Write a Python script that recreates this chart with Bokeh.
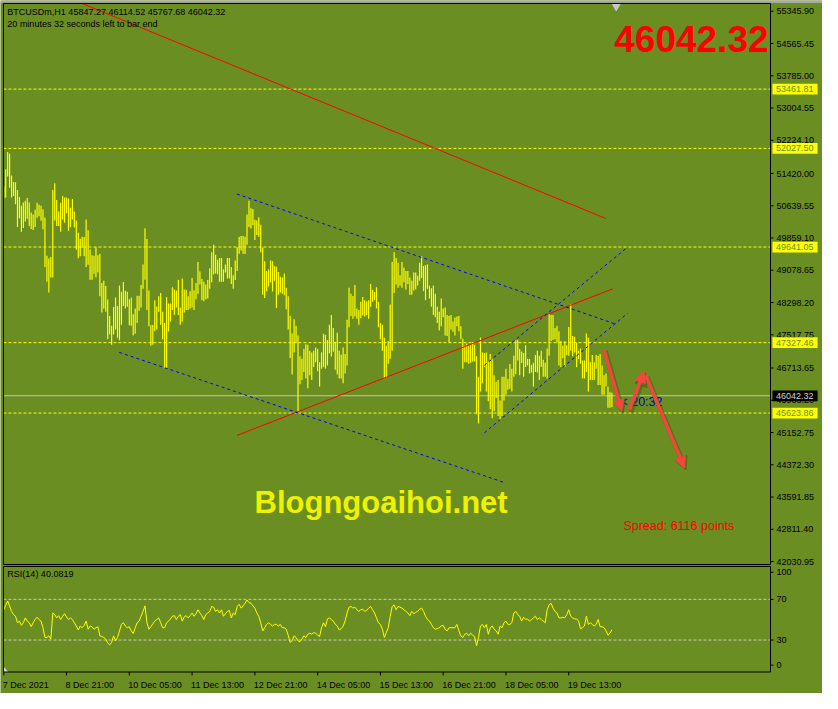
from bokeh.plotting import figure
from bokeh.models import Range1d, ColumnDataSource, Arrow, NormalHead
from bokeh.core.properties import value
from bokeh.embed import file_html
from bokeh.resources import INLINE

# ---------------- data ----------------
symbol = "BTCUSDm,H1"
last_open, last_high, last_low, last_close = 45847.27, 46114.52, 45767.68, 46042.32
rsi_last = 40.0819
spread_points = 6116
time_left = "20:32"

# hourly bars, bar 0 = 7 Dec 2021 13:00
bar_high = [
    51113, 51522, 51940, 51901, 51373, 51215, 51207, 51018, 50852, 50640,
    50718, 50758, 50829, 50718, 50474, 50427, 50545, 50710, 50663, 50640,
    50553, 50356, 49433, 49363, 49402, 51018, 51183, 50781, 50498, 50710,
    50876, 50837, 50837, 50813, 50592, 50805, 50498, 50285, 49985, 49843,
    49891, 49883, 50308, 50048, 49583, 49441, 49433, 49638, 49441, 49481,
    48771, 48826, 48700, 48369, 47975, 47739, 48188, 48417, 48212, 48708,
    48558, 48795, 48582, 48558, 48377, 48417, 48015, 48156, 48464, 48464,
    48724, 49221, 50096, 49836, 48590, 47747, 47754, 48354, 48204, 48448,
    48527, 48078, 47802, 48432, 48275, 48275, 48669, 48614, 48590, 48850,
    48180, 48882, 48614, 48606, 48448, 48574, 48890, 48590, 48771, 49276,
    49047, 48866, 48803, 48732, 48842, 49126, 49512, 49694, 49457, 49331,
    49378, 49378, 49102, 49221, 49378, 49378, 49158, 48960, 49315, 49638,
    49883, 49906, 49906, 49891, 50427, 50758, 50577, 50561, 50301, 50285,
    50364, 50182, 49631, 49299, 49063, 49102, 49315, 49299, 49181, 49165,
    49039, 48921, 48905, 49000, 48653, 48448, 47975, 47549, 47896, 47739,
    47502, 46998, 46935, 47171, 47289, 47274, 47132, 47092, 47132, 47210,
    47171, 46856, 47092, 47542, 47518, 47392, 47762, 47999, 47683, 47352,
    47565, 47132, 47037, 47210, 47053, 47881, 48653, 48511, 48456, 48724,
    48156, 48117, 48314, 48432, 48354, 48330, 48354, 48748, 48606, 48551,
    48669, 48314, 47802, 47762, 47447, 47250, 47368, 48251, 49276, 49512,
    49378, 49260, 48960, 49276, 49142, 49063, 49063, 48905, 48827, 49024,
    49024, 48945, 49260, 49418, 49181, 49205, 49221, 48708, 48645, 48708,
    48511, 48196, 48078, 48393, 48156, 48180, 47999, 47975, 47999, 47841,
    47936, 47959, 47975, 47723, 47423, 47250, 47305, 47250, 47289, 47344,
    47274, 46998, 46501, 47447, 47092, 47076, 47092, 46871, 47053, 46935,
    46540, 46383, 46422, 45926, 46501, 46501, 46698, 46446, 46808, 46698,
    47013, 47384, 47400, 47171, 47116, 47076, 47266, 46935, 46935, 46793,
    46840, 47029, 47132, 47013, 47132, 46911, 46840, 47187, 48038, 47999,
    47999, 47683, 47739, 47605, 47368, 47250, 47368, 47266, 47707, 48259,
    47486, 47471, 47329, 47132, 47187, 46895, 46895, 47549, 47447, 46856,
    47029, 46856, 47029, 47013, 47053, 46777, 46540, 46580, 46265, 46130,
    46114.52,
]
bar_low = [
    50813, 50837, 51349, 51073, 50837, 50876, 50679, 50127, 50340, 50009,
    50104, 50261, 50324, 50151, 50080, 50056, 50127, 50348, 50387, 50277,
    50072, 49158, 48803, 48543, 48905, 48905, 50285, 50151, 50151, 50009,
    50308, 50230, 50458, 50033, 50127, 50308, 50111, 49575, 49370, 49418,
    49615, 49418, 49158, 49213, 48850, 48850, 48992, 48905, 49024, 48448,
    48054, 48156, 48078, 47408, 47526, 47274, 47526, 47644, 47447, 47384,
    47762, 48212, 48156, 48196, 47747, 47739, 47502, 47542, 47802, 48101,
    48180, 48629, 48850, 48117, 47723, 47250, 47274, 47612, 47644, 48078,
    47762, 47408, 46714, 46714, 47597, 47841, 48117, 47999, 48180, 47999,
    47762, 47841, 48054, 48117, 48117, 48156, 48180, 48117, 48377, 48511,
    48732, 48354, 48330, 48377, 48393, 48629, 48787, 48984, 49000, 48984,
    48803, 48803, 48803, 49024, 48882, 48882, 48748, 48629, 48842, 49063,
    49481, 49560, 49481, 49473, 49694, 50127, 50088, 50167, 49812, 49930,
    49891, 49512, 48488, 48409, 48574, 48685, 48787, 48566, 48827, 48164,
    48488, 48543, 48511, 48472, 48133, 47644, 46958, 46556, 47092, 47313,
    45634, 46320, 46422, 46619, 46462, 46225, 46540, 46422, 46737, 46856,
    46635, 46265, 46698, 46737, 46698, 46777, 47069, 46990, 47108, 46674,
    46556, 46462, 46462, 46343, 46580, 46777, 47699, 47975, 47904, 47959,
    47904, 47762, 47920, 47983, 47959, 47999, 47904, 48196, 48314, 48354,
    48156, 47699, 47408, 47132, 46477, 46493, 46816, 46935, 47132, 48527,
    48732, 48653, 48708, 48653, 48787, 48614, 48748, 48488, 48488, 48590,
    48622, 48708, 48827, 48890, 48574, 48354, 48629, 48393, 48196, 47999,
    47944, 47802, 47620, 47723, 47944, 47502, 47486, 47329, 47644, 47589,
    47502, 47723, 47605, 47408, 46698, 46856, 46856, 46816, 46840, 46871,
    46871, 45594, 45374, 46146, 46343, 46737, 46146, 45910, 45713, 45500,
    45673, 45989, 45555, 45453, 45555, 45926, 46067, 46186, 46209, 46146,
    46501, 46564, 46895, 46540, 46832, 46501, 46737, 46777, 46580, 46603,
    46265, 46619, 46603, 46422, 46737, 46501, 46501, 46462, 47013, 47368,
    47392, 47408, 47329, 46777, 46737, 46950, 46737, 47029, 47013, 47132,
    46998, 47092, 46737, 46935, 46816, 46462, 46462, 46619, 46146, 46422,
    46422, 46422, 46698, 46304, 46304, 46067, 46067, 46265, 45752, 45752,
    45767.68,
]
bar_index = list(range(len(bar_high)))

rsi_bar = [0, 2] + list(range(4, 311))
rsi_val = [
    59.8, 68.4,
    58.2, 55.0, 53.4, 47.0, 48.6, 44.4, 47.0, 51.8, 48.6, 47.0,
    43.1, 47.0, 50.2, 52.4, 50.2, 48.6, 42.1, 32.5, 32.5, 34.1,
    30.9, 56.6, 55.0, 51.8, 54.0, 50.2, 53.4, 55.9, 52.7, 50.2,
    51.8, 50.2, 47.0, 43.8, 39.9, 43.8, 42.1, 44.4, 48.6, 40.6,
    43.8, 43.1, 40.6, 42.1, 43.1, 34.1, 33.5, 32.5, 30.9, 27.1,
    25.2, 27.7, 34.1, 29.3, 32.5, 39.0, 45.4, 47.0, 43.8, 42.1,
    43.1, 39.0, 36.4, 42.1, 47.0, 48.6, 53.4, 58.2, 63.6, 47.0,
    40.6, 43.1, 46.0, 48.6, 50.2, 51.8, 47.0, 42.1, 42.1, 47.0,
    48.6, 50.8, 53.4, 54.0, 50.2, 53.4, 55.0, 48.6, 52.7, 54.0,
    51.8, 54.0, 56.6, 53.4, 55.9, 59.8, 56.6, 54.0, 50.2, 55.0,
    56.6, 58.2, 63.0, 62.3, 58.2, 59.8, 56.6, 59.8, 53.4, 55.9,
    58.2, 59.1, 51.8, 56.6, 55.0, 63.0, 65.2, 61.4, 63.6, 66.2,
    69.4, 66.8, 66.2, 63.6, 61.4, 56.6, 53.4, 47.0, 39.0, 42.1,
    45.4, 47.0, 45.4, 43.8, 45.4, 45.4, 43.8, 45.4, 42.1, 42.1,
    40.6, 34.8, 27.7, 29.3, 34.1, 32.5, 29.3, 28.4, 30.9, 34.1,
    32.5, 35.7, 36.7, 35.7, 37.3, 36.7, 34.8, 33.5, 42.1, 47.0,
    43.1, 50.8, 51.8, 50.2, 48.6, 45.4, 43.8, 39.9, 41.2, 43.8,
    48.6, 56.6, 62.3, 63.0, 61.4, 62.3, 59.8, 58.2, 59.8, 60.4,
    58.2, 59.1, 61.4, 63.0, 59.8, 56.6, 51.8, 47.0, 45.4, 40.6,
    32.5, 37.3, 42.1, 53.4, 63.0,
    64.6, 59.8, 63.0, 62.3, 61.4, 59.8, 58.2, 56.6, 54.0, 58.2,
    55.9, 57.2, 58.2, 60.4, 61.4, 58.2, 53.4, 50.2, 48.6, 45.4,
    42.1, 40.6, 41.2, 42.1, 43.8, 44.4, 40.6, 39.0, 42.1, 42.1,
    42.1, 42.1, 45.4, 39.0, 34.1, 32.5, 35.7, 36.7, 34.1, 36.7,
    34.8, 33.5, 24.5, 32.5, 43.8, 45.4, 42.1, 45.4, 35.7, 42.1,
    43.8, 40.6, 39.0, 35.7, 43.8, 42.1, 47.0, 48.6, 45.4, 45.4,
    47.0, 56.6, 58.2, 55.0, 53.4, 48.6, 52.4, 50.2, 50.8, 48.6,
    50.2, 51.8, 53.4, 50.2, 51.8, 50.2, 48.6, 47.0, 59.8, 64.6,
    66.2, 61.4, 58.2, 56.6, 51.8, 51.8, 52.4, 51.8, 55.0, 59.8,
    53.4, 51.8, 50.8, 50.8, 48.6, 41.2, 42.1, 43.8, 53.4, 45.4,
    47.0, 45.4, 43.8, 45.4, 50.2, 43.1, 43.1, 42.1, 39.0, 34.8,
    36.7, 40.08,
]

xtick_bars = [0, 32, 64, 96, 128, 160, 192, 224, 256, 288]
xtick_labels = ["7 Dec 2021", "8 Dec 21:00", "10 Dec 05:00", "11 Dec 13:00",
                "12 Dec 21:00", "14 Dec 05:00", "15 Dec 13:00", "16 Dec 21:00",
                "18 Dec 05:00", "19 Dec 13:00"]
price_ticks = [55345.90, 54565.45, 53785.00, 53004.55, 52224.10, 51420.00,
               50639.55, 49859.10, 49078.65, 48298.20, 47517.75, 46713.65,
               45933.20, 45152.75, 44372.30, 43591.85, 42811.40, 42030.95]
levels = [53461.81, 52027.50, 49641.05, 47327.46, 45623.86]
rsi_levels = [70, 30]
rsi_tick_labels = ["100", "70", "30", "0"]

# trend lines (bar index, price)
red_x0 = [39.9, 118.9]
red_y0 = [55535, 45082]
red_x1 = [306.9, 310.4]
red_y1 = [50332, 48629]
blue_x0 = [118.9, 58.9, 245.0, 245.0]
blue_y0 = [50923, 47092, 45146, 46778]
blue_x1 = [311.9, 254.9, 318.0, 318.0]
blue_y1 = [47778, 43947, 48038, 49639]

# forecast arrows (bar index, price)
arrow_x0 = [305.9, 318.9, 327.2]
arrow_y0 = [47170, 45697, 46541]
arrow_x1 = [315.0, 326.4, 347.0]
arrow_y1 = [45673, 46636, 44294]

shift_bar = 312.2

# ---------------- layout helpers (reference-pixel -> data) ----------------
W, H = 822, 693
OLIVE = "#6B8E23"
FONT = "Liberation Sans"


def X(px):
    return (px - 3.3) / 2.0


def Y(py):
    return 53785.0 - 23.65 * (py - 77.0)


def R(py):
    return (685.5 - py) / 1.04


PPP = 23.65 * 709.0 / H      # price per screen pixel
BPP = 2.0 * 838.0 / W        # bars per screen pixel (inverse)
BPP = 838.0 / W / 2.0

p = figure(width=W, height=H, x_range=Range1d(X(0), X(838)), y_range=Range1d(Y(709), Y(0)),
           output_backend="svg", toolbar_location=None, x_axis_location=None,
           y_axis_location=None, min_border=0, outline_line_color=None,
           background_fill_color=OLIVE, border_fill_color=OLIVE)
p.extra_y_ranges = {"rsi": Range1d(R(709), R(0))}
p.grid.visible = False

# top grey strip
p.quad(left=[X(0)], right=[X(838)], top=[Y(0)], bottom=[Y(2.5)], fill_color="#A8A8A8",
       line_color=None)

# horizontal levels
p.segment(x0=[X(3)] * len(levels), x1=[X(785)] * len(levels), y0=levels, y1=levels,
          line_color="#FFFF00", line_dash="3 2", line_width=1)
p.segment(x0=[X(3)], x1=[X(785)], y0=[last_close], y1=[last_close],
          line_color="#C0C0C0", line_width=1)

# bars
src = ColumnDataSource(dict(k=bar_index, hi=bar_high, lo=bar_low))
p.segment(x0="k", y0="lo", x1="k", y1="hi", source=src, line_color="#FFFF00",
          line_width=1.2)

# trend lines
p.segment(x0=red_x0, y0=red_y0, x1=red_x1, y1=red_y1, line_color="#FF0000", line_width=1)
p.segment(x0=blue_x0, y0=blue_y0, x1=blue_x1, y1=blue_y1, line_color="#0000FF",
          line_width=1, line_dash="3 3")

# shift marker
p.scatter(x=[shift_bar], y=[Y(5.8)], marker="inverted_triangle", size=8,
          fill_color="#C8C8C8", line_color="#C8C8C8")

# RSI panel
p.segment(x0=[X(3)] * 2, x1=[X(785)] * 2, y0=rsi_levels, y1=rsi_levels,
          y_range_name="rsi", line_color="#C8C8C8", line_dash="3 2", line_width=1)
p.line(rsi_bar, rsi_val, y_range_name="rsi", line_color="#FFFF00", line_width=1)
p.patch(x=[X(3.5), X(3.5), X(8)], y=[R(682), R(687), R(687)], y_range_name="rsi",
        fill_color="#D8D8D8", line_color=None)

# panel frames
p.quad(left=[X(3), X(3)], right=[X(785), X(785)], top=[Y(3), Y(579)],
       bottom=[Y(577), Y(687)], fill_color=None, line_color="black", line_width=1)

# price axis ticks and labels
p.segment(x0=[X(785)] * len(price_ticks), x1=[X(788)] * len(price_ticks),
          y0=price_ticks, y1=price_ticks, line_color="black", line_width=1)
p.text(x=[X(791)] * len(price_ticks), y=price_ticks,
       text=[f"{v:.2f}" for v in price_ticks], text_font=value(FONT),
       text_font_size=value("9px"), text_color="black", text_baseline="middle",
       text_align="left")

# RSI axis ticks and labels
rsi_lab_y = [R(585), R(612.7), R(654.3), R(680)]
p.segment(x0=[X(785)] * 4, x1=[X(788)] * 4, y0=rsi_lab_y, y1=rsi_lab_y,
          y_range_name="rsi", line_color="black", line_width=1)
p.text(x=[X(791)] * 4, y=rsi_lab_y, y_range_name="rsi", text=rsi_tick_labels,
       text_font=value(FONT), text_font_size=value("9px"), text_color="black",
       text_baseline="middle", text_align="left")

# time axis ticks and labels
p.segment(x0=xtick_bars, x1=xtick_bars, y0=[Y(687)] * len(xtick_bars),
          y1=[Y(690.5)] * len(xtick_bars), line_color="black", line_width=1)
p.text(x=xtick_bars, y=[Y(700)] * len(xtick_bars), text=xtick_labels, x_offset=-1,
       text_font=value(FONT), text_font_size=value("9px"), text_color="black",
       text_baseline="alphabetic", text_align="left")

# level boxes on the price axis
half = 5.5 * 23.65
p.quad(left=[X(787)] * len(levels), right=[X(833)] * len(levels),
       top=[v + half for v in levels], bottom=[v - half for v in levels],
       fill_color="#FFFF00", line_color=None)
p.text(x=[X(790.5)] * len(levels), y=levels, text=[f"{v:.2f}" for v in levels],
       text_font=value(FONT), text_font_size=value("9px"), text_color=OLIVE,
       text_baseline="middle", text_align="left")
p.quad(left=[X(787)], right=[X(833)], top=[last_close + half], bottom=[last_close - half],
       fill_color="#000000", line_color=None)
p.text(x=[X(790.5)], y=[last_close], text=[f"{last_close:.2f}"],
       text_font=value(FONT), text_font_size=value("9px"), text_color="#D0D0D0",
       text_baseline="middle", text_align="left")

# texts
p.text(x=[X(7), X(7)], y=[Y(11.5), Y(24.5)],
       text=[f"{symbol}  {last_open:.2f} {last_high:.2f} {last_low:.2f} {last_close:.2f}",
             "20 minutes 32 seconds left to bar end"],
       text_font=value(FONT), text_font_size=value("9px"), text_color="black",
       text_baseline="middle", text_align="left")
p.text(x=[X(7)], y=[R(587)], y_range_name="rsi", text=[f"RSI(14) {rsi_last:.4f}"],
       text_font=value(FONT), text_font_size=value("9px"), text_color="black",
       text_baseline="middle", text_align="left")
p.text(x=[X(783)], y=[Y(39.5)], text=[f"{last_close:.2f}"], text_font=value(FONT),
       text_font_size=value("37px"), text_font_style="bold", text_color="#FF0000",
       text_align="right", text_baseline="alphabetic")
p.text(x=[X(388)], y=[Y(514)], text=["Blogngoaihoi.net"], text_font=value(FONT),
       text_font_size=value("31px"), text_font_style="bold", text_color="#EEF200",
       text_align="center", text_baseline="alphabetic")
p.text(x=[X(635)], y=[Y(538)], text=[f"Spread: {spread_points} points"],
       text_font=value(FONT), text_font_size=value("12.5px"), text_color="#FF0000",
       text_baseline="middle", text_align="left")
p.text(x=[X(632)], y=[Y(411)], text=[f"< {time_left}"], text_font=value(FONT),
       text_font_size=value("12.5px"), text_color="#0000C8", text_baseline="middle",
       text_align="left")

# arrows (shadow first)
sh = ColumnDataSource(dict(x0=[v + 1.5 * BPP for v in arrow_x0],
                           y0=[v - 2 * PPP for v in arrow_y0],
                           x1=[v + 1.5 * BPP for v in arrow_x1],
                           y1=[v - 2 * PPP for v in arrow_y1]))
p.add_layout(Arrow(x_start="x0", y_start="y0", x_end="x1", y_end="y1", source=sh,
                   line_color="#3F5A14", line_alpha=0.5, line_width=5,
                   end=NormalHead(size=13, fill_color="#3F5A14", fill_alpha=0.5,
                                  line_color="#3F5A14", line_alpha=0.5)))
ar = ColumnDataSource(dict(x0=arrow_x0, y0=arrow_y0, x1=arrow_x1, y1=arrow_y1))
p.add_layout(Arrow(x_start="x0", y_start="y0", x_end="x1", y_end="y1", source=ar,
                   line_color="#F2483C", line_width=3.5,
                   end=NormalHead(size=11, fill_color="#F2483C", line_color="#F2483C")))

open("out.html", "w").write(file_html(p, INLINE))
